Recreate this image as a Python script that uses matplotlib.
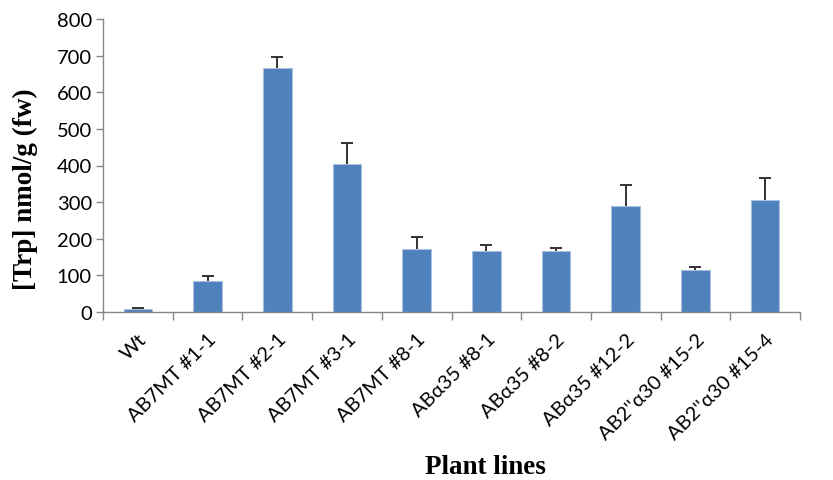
import matplotlib
matplotlib.use("Agg")
import matplotlib.pyplot as plt
import numpy as np

categories = ["Wt", "AB7MT #1-1", "AB7MT #2-1", "AB7MT #3-1", "AB7MT #8-1",
              "ABα35 #8-1", "ABα35 #8-2", "ABα35 #12-2", "AB2''α30 #15-2", "AB2''α30 #15-4"]
values = [7, 85, 665, 403, 173, 167, 167, 289, 116, 306]
errors = [3, 12, 32, 59, 33, 15, 9, 59, 8, 60]

W, H = 833, 481
fig = plt.figure(figsize=(W/100, H/100), dpi=100)
ax = fig.add_axes([103/W, 1-313/H, 697/W, 293/H])

x = np.arange(len(categories))
vals = np.array(values, dtype=float)
tops = vals + np.array(errors, dtype=float)
ax.bar(x, vals, width=0.41, color="#4F81BD", edgecolor="#A9C1DF", linewidth=0.8, zorder=2)
ax.vlines(x, vals, tops, color="#333333", linewidth=1.4, zorder=3)
ax.plot(x, tops, linestyle="none", marker="_", markersize=9, markeredgewidth=1.4,
        color="#333333", zorder=3)

ax.set_xlim(-0.5, len(categories) - 0.5)
ax.set_ylim(0, 800)
ax.set_yticks(np.arange(0, 801, 100))
ax.tick_params(axis="y", labelsize=14.5, length=5, color="#868686", width=1, pad=3)
ax.set_xticks(x)
ax.set_xticklabels(categories, rotation=45, ha="right", rotation_mode="anchor",
                   fontsize=14.5)
ax.tick_params(axis="x", length=0, pad=13)
ax.set_xticks(np.arange(-0.5, len(categories), 1.0), minor=True)
ax.tick_params(axis="x", which="minor", length=6, color="#868686", width=1)
for lab in ax.get_xticklabels() + ax.get_yticklabels():
    lab.set_fontfamily(["Lato", "DejaVu Sans"])

for s in ["top", "right"]:
    ax.spines[s].set_visible(False)
for s in ["left", "bottom"]:
    ax.spines[s].set_color("#868686")
    ax.spines[s].set_linewidth(1)

fig.text(25/W, 1-189/H, "[Trp] nmol/g (fw)", rotation=90, ha="center", va="center",
         fontsize=19.5, fontweight="bold", fontfamily="Liberation Serif")
fig.text(485/W, 1/H, "Plant lines", ha="center", va="bottom",
         fontsize=19.5, fontweight="bold", fontfamily="Liberation Serif")

fig.savefig("out.png", dpi=100)
